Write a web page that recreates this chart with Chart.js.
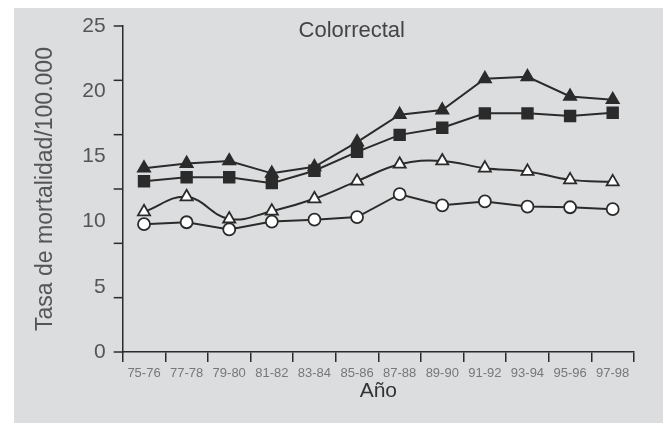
<!DOCTYPE html>
<html>
<head>
<meta charset="utf-8">
<script src="https://cdn.jsdelivr.net/npm/chart.js@4"></script>
<style>
    html, body { margin: 0; padding: 0; background: #fff; }
    #marco {
        position: absolute; left: 14px; top: 8px;
        width: 649px; height: 415px; background: #dcdddf;
    }
</style>
</head>
<body>
<div id="marco"><canvas id="line-chart"></canvas></div>
<script>
var periodos = ["75-76", "77-78", "79-80", "81-82", "83-84", "85-86", "87-88", "89-90", "91-92", "93-94", "95-96", "97-98"];
var trianguloLleno = [14.1, 14.45, 14.65, 13.7, 14.2, 16.1, 18.2, 18.55, 20.95, 21.1, 19.6, 19.35];
var cuadrado = [13.1, 13.4, 13.4, 12.95, 13.9, 15.35, 16.65, 17.2, 18.3, 18.3, 18.1, 18.35];
var trianguloVacio = [10.75, 11.9, 10.2, 10.8, 11.75, 13.1, 14.4, 14.65, 14.1, 13.85, 13.2, 13.05];
var circulo = [9.8, 9.95, 9.4, 10.0, 10.15, 10.35, 12.1, 11.25, 11.55, 11.15, 11.1, 10.95];
var yMin = 0, yMax = 25, yPaso = 5;
var marcasY = 6; // the axis has 7 tick marks that do not line up with the labels

var tinta = "#2b2b2b";
var fuente = "'Liberation Sans', Arial, sans-serif";

// tick marks on the y axis + title inside the plot
var extras = {
    id: "extras",
    afterDraw: function (chart) {
        var ctx = chart.ctx;
        var y = chart.scales.y;
        var area = chart.chartArea;
        ctx.save();
        ctx.strokeStyle = tinta;
        ctx.lineWidth = 1.5;
        for (var k = 0; k <= marcasY; k++) {
            var py = y.getPixelForValue(yMin + (yMax - yMin) * k / marcasY);
            ctx.beginPath();
            ctx.moveTo(area.left - 9, py);
            ctx.lineTo(area.left, py);
            ctx.stroke();
        }
        ctx.fillStyle = "#444";
        ctx.font = "22px " + fuente;
        ctx.textAlign = "center";
        ctx.textBaseline = "middle";
        ctx.fillText("Colorrectal", area.left + (area.right - area.left) * 0.448, area.top + 5);
        ctx.restore();
    }
};

function serie(datos, estilo, relleno, radio, tension) {
    return {
        data: datos,
        borderColor: tinta,
        borderWidth: 2,
        pointStyle: estilo,
        pointRadius: radio,
        pointBackgroundColor: relleno,
        pointBorderColor: tinta,
        pointBorderWidth: 1.8,
        tension: tension,
        fill: false
    };
}

new Chart(document.getElementById("line-chart"), {
    type: "line",
    data: {
        labels: periodos,
        datasets: [
            serie(trianguloLleno, "triangle", tinta, 7, 0),
            serie(cuadrado, "rect", tinta, 7.5, 0),
            serie(trianguloVacio, "triangle", "#fff", 7, 0.4),
            serie(circulo, "circle", "#fff", 6, 0)
        ]
    },
    plugins: [extras],
    options: {
        responsive: true,
        maintainAspectRatio: false,
        animation: false,
        layout: { padding: { top: 18, right: 29, bottom: 0, left: 0 } },
        plugins: {
            legend: { display: false },
            title: { display: false },
            tooltip: { enabled: false }
        },
        scales: {
            x: {
                offset: true,
                grid: { offset: true, drawOnChartArea: false, drawTicks: true, tickLength: 10, color: tinta, lineWidth: 1.5 },
                border: { color: tinta, width: 1.5 },
                ticks: { color: "#777", font: { family: fuente, size: 13 }, padding: 4, maxRotation: 0, autoSkip: false },
                title: { display: true, text: "Año", color: "#333", font: { family: fuente, size: 21 }, padding: { top: 0, bottom: 19 } },
                afterFit: function (scale) { scale.height = 71; }
            },
            y: {
                min: yMin,
                max: yMax,
                // tick marks are drawn by the plugin; tickLength only keeps the label gap
                grid: { display: false, drawTicks: true, tickLength: 17 },
                border: { color: tinta, width: 1.5 },
                ticks: { stepSize: yPaso, color: "#555", font: { family: fuente, size: 21 }, padding: 0 },
                title: { display: true, text: "Tasa de mortalidad/100.000", color: "#555", font: { family: fuente, size: 23 }, padding: { top: 18, bottom: 0 } },
                afterFit: function (scale) { scale.width = 108.7; }
            }
        }
    }
});
</script>
</body>
</html>
